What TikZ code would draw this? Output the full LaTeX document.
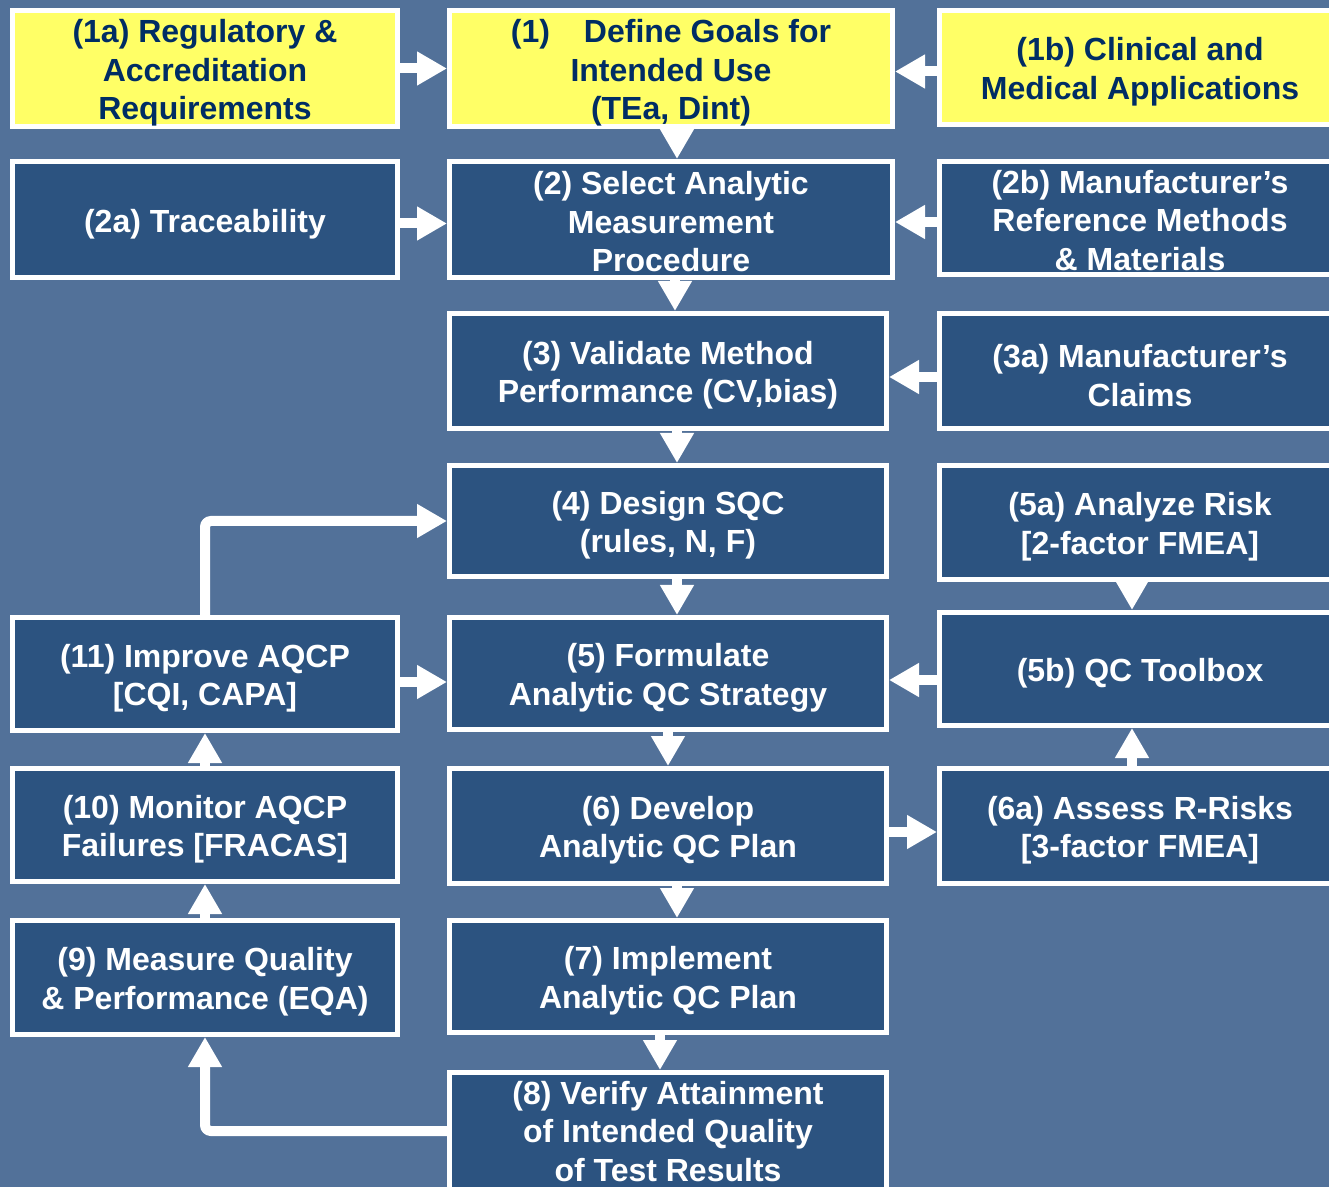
\documentclass[tikz,border=0pt]{standalone}
\usepackage{fontspec}
\setmainfont{Liberation Sans}
\usetikzlibrary{arrows.meta}

\definecolor{bgblue}{RGB}{82,113,153}
\definecolor{boxblue}{RGB}{44,83,128}
\definecolor{hiyellow}{RGB}{255,255,102}
\definecolor{navytext}{RGB}{0,45,100}

\tikzset{
  stage/.style={draw=white, line width=2.5pt, fill=boxblue, inner sep=0pt},
  goal/.style={stage, fill=hiyellow},
  stagetext/.style={text=white, inner sep=0pt, align=center,
    font=\fontsize{16}{19.25}\selectfont\bfseries},
  goaltext/.style={stagetext, text=navytext},
  flow/.style={draw=white, line width=5pt, -{Triangle[length=15pt,width=16pt]}},
}

% box from its outer corners (x1,y1)-(x2,y2), border included, with its caption
\newcommand\mkbox[9][-2.2pt]{%
  \pgfmathsetmacro\mkw{(#7-#5-5)*0.5}%
  \pgfmathsetmacro\mkh{(#8-#6-5)*0.5}%
  \node[#2, minimum width=\mkw pt, minimum height=\mkh pt] (#4)
    at ({(#5+#7)/2},{(#6+#8)/2}) {};
  \node[#3] at ([yshift=#1]#4.center) {#9};}

\begin{document}
\begin{tikzpicture}[x=0.5pt, y=-0.5pt]
  \useasboundingbox (0,0) rectangle (1329,1187);
  \fill[bgblue] (0,0) rectangle (1329,1187);
  \clip (0,0) rectangle (1329,1187);

  % left column
  \mkbox{goal}{goaltext}{n1a}{10}{8}{400}{129}{(1a) Regulatory \&\\Accreditation\\Requirements}
  \mkbox{stage}{stagetext}{n2a}{10}{159}{400}{280}{(2a) Traceability}
  \mkbox{stage}{stagetext}{n11}{10}{615}{400}{733}{(11) Improve AQCP\\{}[CQI, CAPA]}
  \mkbox{stage}{stagetext}{n10}{10}{766}{400}{884}{(10) Monitor AQCP\\Failures [FRACAS]}
  \mkbox{stage}{stagetext}{n9}{10}{918}{400}{1037}{(9) Measure Quality\\\& Performance (EQA)}

  % middle column
  \mkbox{goal}{goaltext}{n1}{447}{8}{895}{129}{(1)\hspace{17pt}Define Goals for\\Intended Use\\(TEa, Dint)}
  \mkbox[-1.2pt]{stage}{stagetext}{n2}{447}{159}{895}{280}{(2) Select Analytic\\Measurement\\Procedure}
  \mkbox{stage}{stagetext}{n3}{447}{311}{889}{431}{(3) Validate Method\\Performance (CV,bias)}
  \mkbox{stage}{stagetext}{n4}{447}{463}{889}{579}{(4) Design SQC\\(rules, N, F)}
  \mkbox{stage}{stagetext}{n5}{447}{615}{889}{732}{(5) Formulate\\Analytic QC Strategy}
  \mkbox{stage}{stagetext}{n6}{447}{766}{889}{886}{(6) Develop\\Analytic QC Plan}
  \mkbox{stage}{stagetext}{n7}{447}{918}{889}{1035}{(7) Implement\\Analytic QC Plan}
  \mkbox[-0.2pt]{stage}{stagetext}{n8}{447}{1070}{889}{1192}{(8) Verify Attainment\\of Intended Quality\\of Test Results}

  % right column
  \mkbox{goal}{goaltext}{n1b}{937}{8}{1343}{127}{(1b) Clinical and\\Medical Applications}
  \mkbox[-1.2pt]{stage}{stagetext}{n2b}{937}{159}{1343}{277}{(2b) Manufacturer’s\\Reference Methods\\\& Materials}
  \mkbox{stage}{stagetext}{n3a}{937}{311}{1343}{431}{(3a) Manufacturer’s\\Claims}
  \mkbox{stage}{stagetext}{n5a}{937}{463}{1343}{582}{(5a) Analyze Risk\\{}[2-factor FMEA]}
  \mkbox{stage}{stagetext}{n5b}{937}{610}{1343}{728}{(5b) QC Toolbox}
  \mkbox{stage}{stagetext}{n6a}{937}{766}{1343}{886}{(6a) Assess R-Risks\\{}[3-factor FMEA]}

  % inputs from the side columns
  \draw[flow] (n1a.east) -- (n1a.east -| n1.west);
  \draw[flow] ([yshift=-2pt]n1b.west) -- ([yshift=-2pt]n1b.west -| n1.east);
  \draw[flow] ([yshift=-2pt]n2a.east) -- ([yshift=-2pt]n2a.east -| n2.west);
  \draw[flow] ([yshift=-2pt]n2b.west) -- ([yshift=-2pt]n2b.west -| n2.east);
  \draw[flow] ([yshift=-3pt]n3a.west) -- ([yshift=-3pt]n3a.west -| n3.east);
  \draw[flow] ([yshift=-4pt]n11.east) -- ([yshift=-4pt]n11.east -| n5.west);
  \draw[flow] ([yshift=-5.5pt]n5b.west) -- ([yshift=-5.5pt]n5b.west -| n5.east);
  \draw[flow] ([yshift=-3pt]n6.east) -- ([yshift=-3pt]n6.east -| n6a.west);

  % main sequence
  \draw[flow] ([xshift=3pt]n1.south) -- ([xshift=3pt]n1.south |- n2.north);
  \draw[flow] ([xshift=2pt]n2.south) -- ([xshift=2pt]n2.south |- n3.north);
  \draw[flow] ([xshift=4.5pt]n3.south) -- ([xshift=4.5pt]n3.south |- n4.north);
  \draw[flow] ([xshift=4.5pt]n4.south) -- ([xshift=4.5pt]n4.south |- n5.north);
  \draw[flow] (n5.south) -- (n5.south |- n6.north);
  \draw[flow] ([xshift=4.5pt]n6.south) -- ([xshift=4.5pt]n6.south |- n7.north);
  \draw[flow] ([xshift=-4pt]n7.south) -- ([xshift=-4pt]n7.south |- n8.north);

  % risk assessment branch
  \draw[flow] ([xshift=-4pt]n5a.south) -- ([xshift=-4pt]n5a.south |- n5b.north);
  \draw[flow] ([xshift=-4pt]n6a.north) -- ([xshift=-4pt]n6a.north |- n5b.south);

  % feedback loop
  \draw[flow, rounded corners=3pt] (n8.west) -| (n9.south);
  \draw[flow] (n9.north) -- (n10.south);
  \draw[flow] (n10.north) -- (n11.south);
  \draw[flow, rounded corners=3pt] (n11.north) |- (n4.west);
\end{tikzpicture}
\end{document}
